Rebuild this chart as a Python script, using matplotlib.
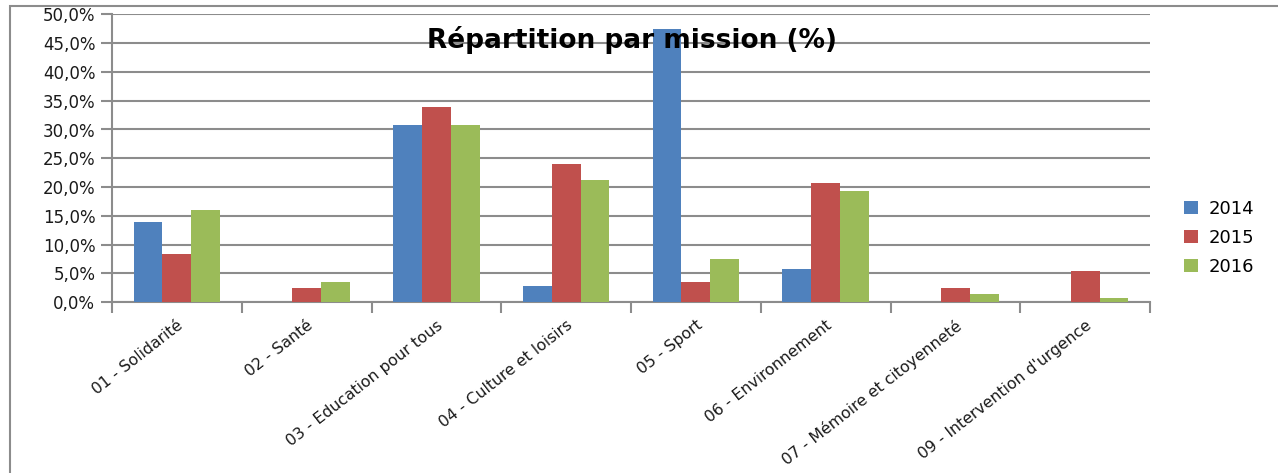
import matplotlib
matplotlib.use("Agg")
import matplotlib.pyplot as plt
import numpy as np
from matplotlib.patches import Rectangle
from matplotlib.ticker import FuncFormatter, MultipleLocator

categories = ["01 - Solidarité", "02 - Santé", "03 - Education pour tous",
              "04 - Culture et loisirs", "05 - Sport", "06 - Environnement",
              "07 - Mémoire et citoyenneté", "09 - Intervention d'urgence"]
years = ["2014", "2015", "2016"]
v2014 = [13.9, 0.0, 30.8, 2.9, 47.4, 5.7, 0.0, 0.0]
v2015 = [8.3, 2.4, 33.9, 24.0, 3.6, 20.7, 2.5, 5.5]
v2016 = [16.0, 3.6, 30.8, 21.2, 7.6, 19.3, 1.5, 0.8]
colors = ["#4F81BD", "#C0504D", "#9BBB59"]

W, H = 1278, 473
fig = plt.figure(figsize=(W / 100, H / 100), dpi=100)
fig.patch.set_facecolor("white")

# chart border
fig.add_artist(Rectangle((10 / W, -0.05), 1.2, 1 - 6 / H + 0.05,
                         transform=fig.transFigure, fill=False,
                         edgecolor="#8c8c8c", linewidth=1.5))

left, right = 112 / W, 1150 / W
bottom, top = 1 - 302.3 / H, 1 - 14.3 / H
ax = fig.add_axes([left, bottom, right - left, top - bottom])

x = np.arange(len(categories))
bw = 1 / 4.5
for i, (vals, col, lab) in enumerate(zip([v2014, v2015, v2016], colors, years)):
    ax.bar(x + (i - 1) * bw, vals, width=bw, color=col, label=lab, zorder=3)

ax.set_xlim(-0.5, len(categories) - 0.5)
ax.set_ylim(0, 50)
ax.yaxis.set_major_locator(MultipleLocator(5))
ax.yaxis.set_major_formatter(FuncFormatter(lambda v, p: f"{v:.1f}%".replace(".", ",")))
ax.grid(axis="y", color="#8c8c8c", linewidth=1.5, zorder=0)
ax.set_axisbelow(True)

for s in ["top", "right"]:
    ax.spines[s].set_visible(False)
for s in ["left", "bottom"]:
    ax.spines[s].set_color("#8c8c8c")
    ax.spines[s].set_linewidth(1.5)

ax.tick_params(axis="y", length=8, width=1.5, color="#8c8c8c", labelsize=12,
               labelcolor="#1a1a1a", pad=4)
ax.set_xticks(np.arange(len(categories) + 1) - 0.5)
ax.set_xticklabels([])
ax.tick_params(axis="x", which="major", length=8, width=1.5, color="#8c8c8c")
ax.set_xticks(x, minor=True)
ax.set_xticklabels(categories, minor=True, rotation=38, ha="right",
                   rotation_mode="anchor", fontsize=11.3, color="#1a1a1a")
ax.tick_params(axis="x", which="minor", length=0, pad=11)

fig.text(632 / W, 1 - 40 / H, "Répartition par mission (%)", ha="center",
         va="center", fontsize=19, fontweight="bold", color="black")

handles, labels = ax.get_legend_handles_labels()
leg = fig.legend(handles, labels, loc="center left",
                 bbox_to_anchor=(1168 / W, 1 - 238 / H), frameon=False,
                 fontsize=13, handlelength=0.75, handleheight=0.75,
                 handletextpad=0.6, labelspacing=0.6)

fig.savefig("out.png", dpi=100)
